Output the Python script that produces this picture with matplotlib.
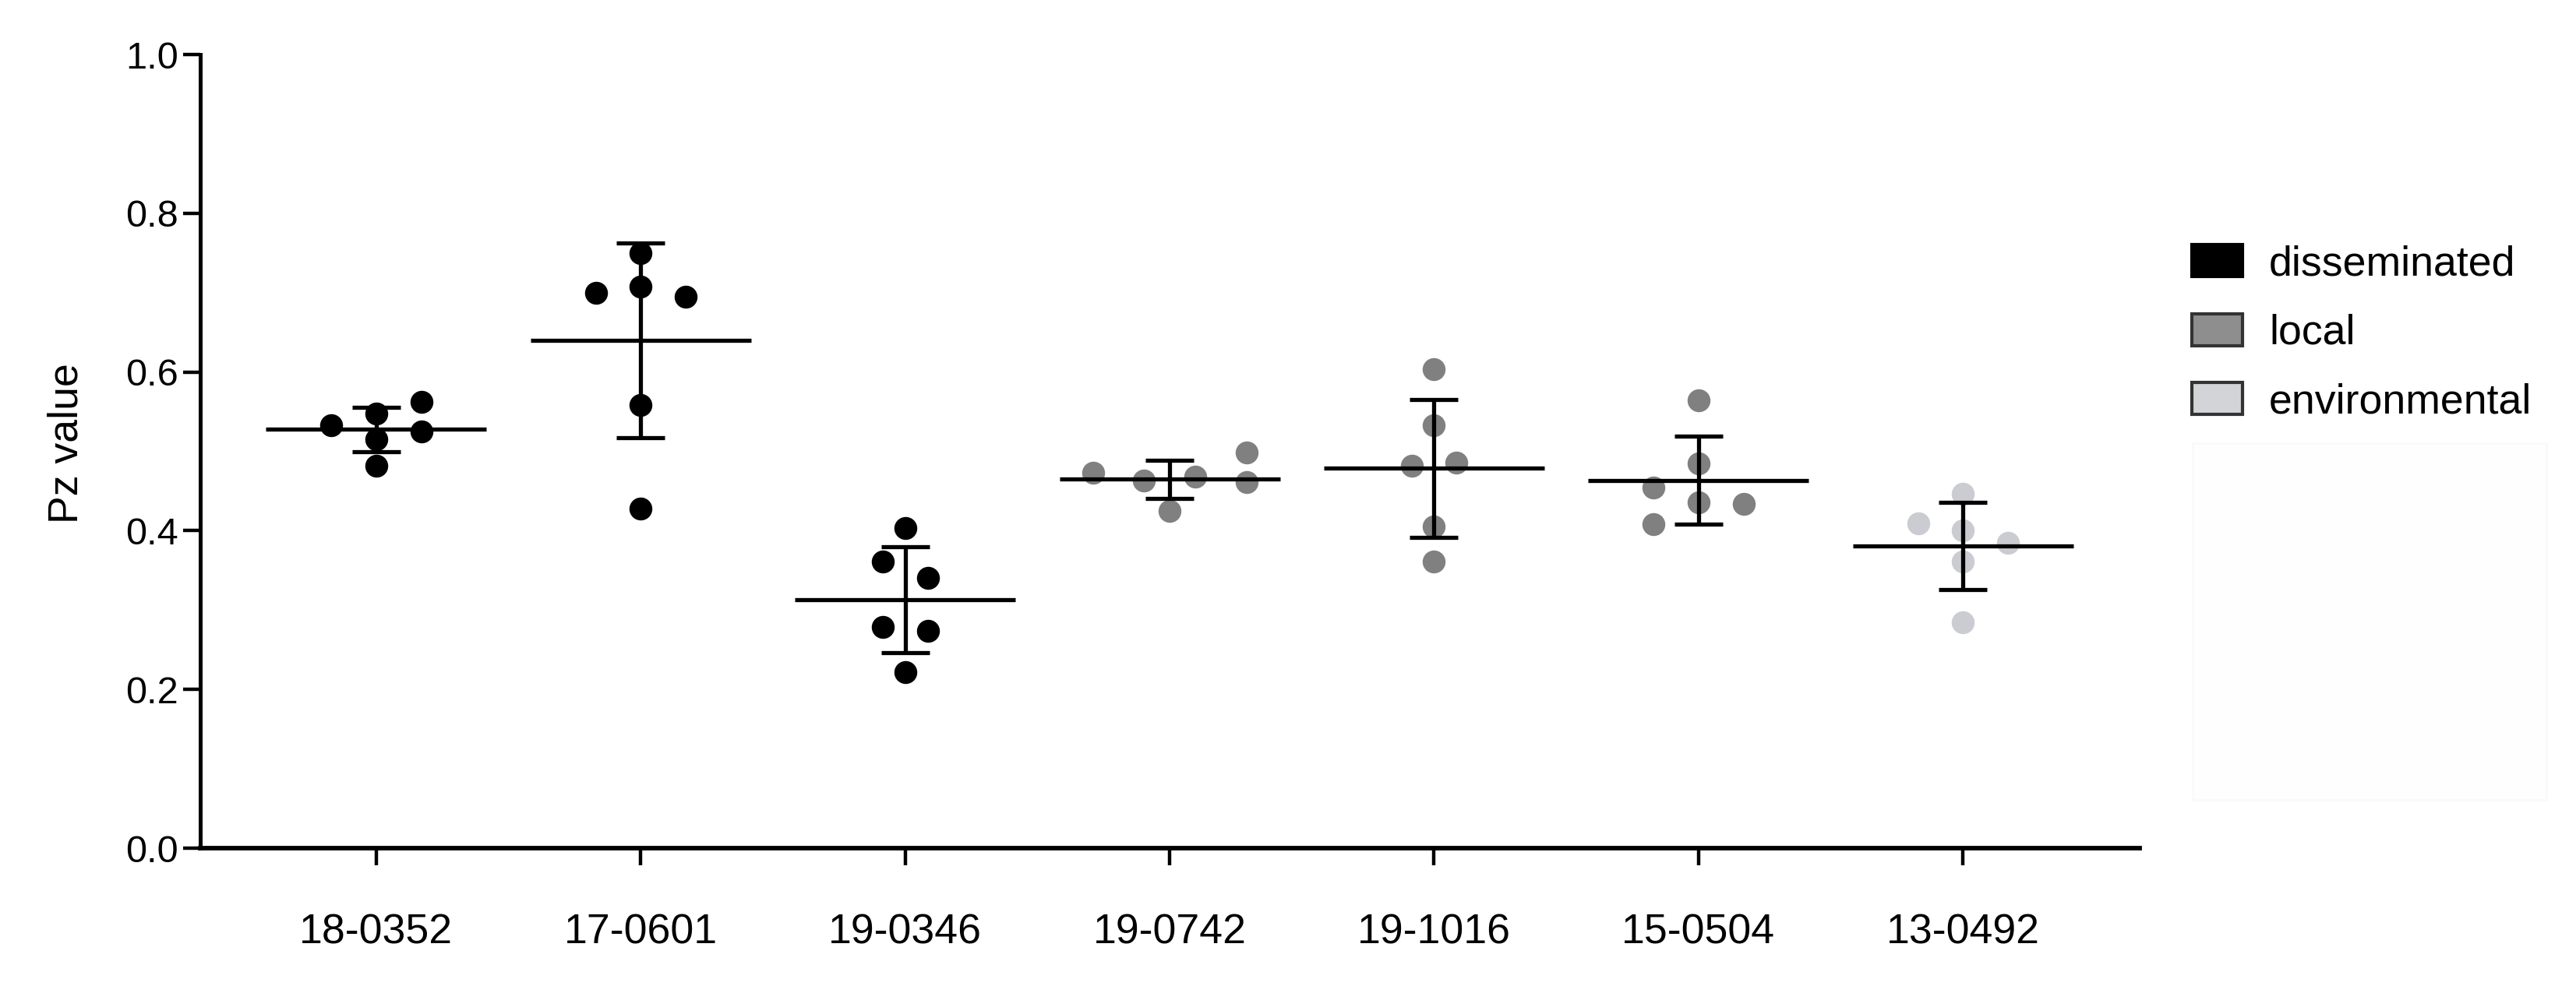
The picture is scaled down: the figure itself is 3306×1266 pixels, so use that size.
import matplotlib
matplotlib.use("Agg")
import matplotlib.pyplot as plt
from matplotlib.patches import Patch, Rectangle
import numpy as np

plt.rcParams['font.family'] = ['Liberation Sans', 'DejaVu Sans']

# isolates and their Pz values (6 replicates each)
isolates = ['18-0352', '17-0601', '19-0346', '19-0742', '19-1016', '15-0504', '13-0492']
pz_18_0352 = [0.533, 0.548, 0.562, 0.525, 0.515, 0.482]
pz_17_0601 = [0.700, 0.750, 0.708, 0.695, 0.558, 0.428]
pz_19_0346 = [0.403, 0.361, 0.341, 0.279, 0.274, 0.222]
pz_19_0742 = [0.473, 0.463, 0.468, 0.499, 0.461, 0.425]
pz_19_1016 = [0.604, 0.533, 0.482, 0.486, 0.405, 0.361]
pz_15_0504 = [0.564, 0.485, 0.454, 0.436, 0.434, 0.408]
pz_13_0492 = [0.447, 0.409, 0.400, 0.385, 0.361, 0.285]
origin = ['disseminated', 'disseminated', 'disseminated', 'local', 'local', 'local', 'environmental']

groups = [pz_18_0352, pz_17_0601, pz_19_0346, pz_19_0742, pz_19_1016, pz_15_0504, pz_13_0492]

# horizontal scatter layout (like a prism scatter dot plot)
swarm = [
    [-0.17, 0, 0.17, 0.17, 0, 0],
    [-0.17, 0, 0, 0.17, 0, 0],
    [0, -0.085, 0.085, -0.085, 0.085, 0],
    [-0.29, -0.097, 0.097, 0.29, 0.29, 0],
    [0, 0, -0.083, 0.085, 0, 0],
    [0, 0, -0.17, 0, 0.17, -0.17],
    [0, -0.17, 0, 0.17, 0, 0],
]

dot_col = {'disseminated': '#000000', 'local': '#808080', 'environmental': '#cbccd1'}
leg_col = {'disseminated': '#000000', 'local': '#8e8e8e', 'environmental': '#d3d4d8'}

fig = plt.figure(figsize=(16.53, 6.33), dpi=200)
ax = fig.add_axes([0.0777, 0.1398, 0.8306 - 0.0777, 0.9447 - 0.1398])

for i, vals in enumerate(groups):
    vals = np.array(vals)
    xs = i + np.array(swarm[i])
    ax.plot(xs, vals, 'o', ms=10.6, color=dot_col[origin[i]], mec='none', zorder=2)
    m = vals.mean()
    sd = vals.std(ddof=1)
    ax.hlines(m, i - 0.417, i + 0.417, color='k', lw=1.9, zorder=3)
    ax.errorbar(i, m, yerr=sd, fmt='none', ecolor='k', elinewidth=1.9,
                capsize=11, capthick=1.9, zorder=3)

ax.set_xlim(-0.666, 6.668)
ax.set_ylim(0, 1.0)
ax.set_yticks([0.0, 0.2, 0.4, 0.6, 0.8, 1.0])
ax.set_yticklabels(['0.0', '0.2', '0.4', '0.6', '0.8', '1.0'])
ax.set_xticks(range(len(isolates)))
ax.set_xticklabels(isolates)
ax.spines['top'].set_visible(False)
ax.spines['right'].set_visible(False)
ax.spines['left'].set_linewidth(1.8)
ax.spines['bottom'].set_linewidth(2.1)
ax.tick_params(axis='y', length=8, width=1.6, pad=2, labelsize=17.5)
ax.tick_params(axis='x', length=8, width=1.6, pad=22, labelsize=19.3)
ax.set_ylabel('Pz value', fontsize=19.3)
ax.yaxis.set_label_coords(-0.059, 0.51)

# faint box under the legend
fig.patches.append(Rectangle((2814 / 3306, 1 - 1027 / 1266), 454 / 3306, 458 / 1266,
                             transform=fig.transFigure, facecolor='#fefefe',
                             edgecolor='#fafafa', lw=1))

handles = [Patch(facecolor=leg_col[k], edgecolor='#000000' if k == 'disseminated' else '#333333',
                 lw=1.5, label=k) for k in ['disseminated', 'local', 'environmental']]
fig.legend(handles=handles, loc='upper left', bbox_to_anchor=(0.851, 0.752),
           frameon=False, fontsize=19.3, handlelength=1.2, handleheight=0.8,
           handletextpad=0.64, labelspacing=0.72, borderpad=0, borderaxespad=0)

fig.savefig('out.png', dpi=200)
